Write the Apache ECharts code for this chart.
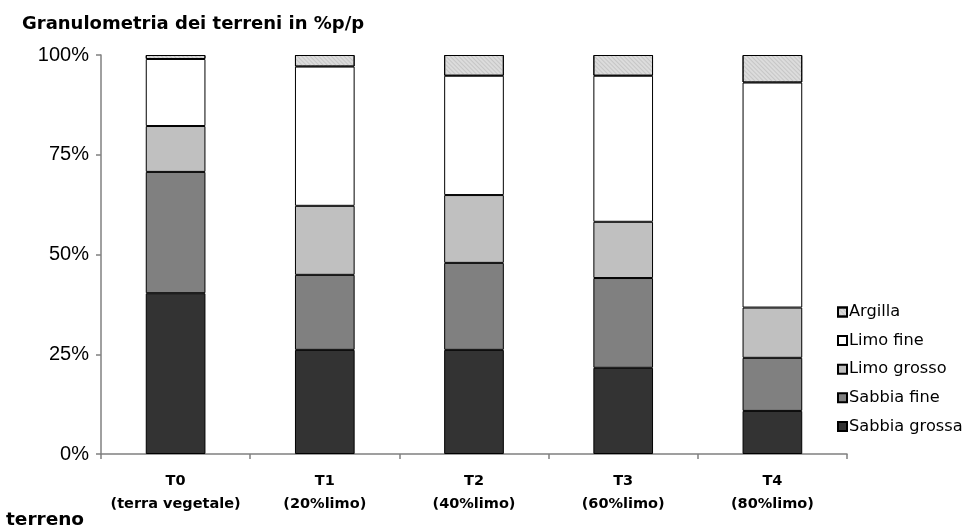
<!DOCTYPE html>
<html>
<head>
<meta charset="utf-8">
<script src="https://cdn.jsdelivr.net/npm/echarts@6/dist/echarts.min.js"></script>
<style>
html,body{margin:0;padding:0;background:#fff;}
#chart{width:973px;height:529px;}
</style>
</head>
<body>
<div id="chart"></div>
<script>
// Soil samples and their particle-size fractions (% by weight)
const categories = ['T0\n(terra vegetale)', 'T1\n(20%limo)', 'T2\n(40%limo)', 'T3\n(60%limo)', 'T4\n(80%limo)'];
const sabbiaGrossa = [40.3, 26.1, 26.1, 21.6, 10.8];
const sabbiaFine   = [30.4, 18.8, 21.8, 22.5, 13.3];
const limoGrosso   = [11.5, 17.3, 17.0, 14.1, 12.6];
const limoFine     = [16.8, 34.9, 29.9, 36.6, 56.4];
const argilla      = [1.0, 2.9, 5.2, 5.2, 6.9];
const yTicks = [0, 25, 50, 75, 100];

const arial = 'Arial, "Liberation Sans", sans-serif';
const wide = '"DejaVu Sans", Arial, sans-serif';

function layer(name, data, color, decal) {
  const s = {
    name: name,
    type: 'bar',
    stack: 'total',
    barWidth: '40%',
    data: data,
    itemStyle: { color: color, borderColor: '#000', borderWidth: 1 }
  };
  if (decal) s.itemStyle.decal = decal;
  return s;
}

const chart = echarts.init(document.getElementById('chart'), null, { renderer: 'canvas' });
chart.setOption({
  animation: false,
  backgroundColor: '#fff',
  title: [
    { text: 'Granulometria dei terreni in %p/p', left: 22, top: 15, padding: 0,
      textStyle: { fontFamily: wide, fontSize: 18, fontWeight: 'bold', color: '#000' } },
    { text: 'terreno', left: 6, top: 511, padding: 0,
      textStyle: { fontFamily: wide, fontSize: 18.5, fontWeight: 'bold', color: '#000' } }
  ],
  legend: {
    orient: 'vertical',
    left: 832,
    top: 299,
    itemWidth: 9,
    itemHeight: 9,
    itemGap: 12.6,
    icon: 'rect',
    data: ['Argilla', 'Limo fine', 'Limo grosso', 'Sabbia fine', 'Sabbia grossa'],
    textStyle: { fontFamily: wide, fontSize: 16.2, color: '#000', padding: [0, 0, 0, -3] }
  },
  grid: { left: 101, right: 126, top: 55, bottom: 75, containLabel: false },
  xAxis: {
    type: 'category',
    data: categories,
    boundaryGap: true,
    axisLine: { show: true, lineStyle: { color: '#808080', width: 1.5 } },
    axisTick: { show: true, length: 5, lineStyle: { color: '#808080', width: 1.5 } },
    axisLabel: {
      interval: 0,
      margin: 16,
      fontFamily: wide,
      fontSize: 14.5,
      fontWeight: 'bold',
      color: '#000',
      lineHeight: 23
    }
  },
  yAxis: {
    type: 'value',
    min: yTicks[0],
    max: yTicks[yTicks.length - 1],
    interval: 25,
    axisLine: { show: true, lineStyle: { color: '#808080', width: 1.5 } },
    axisTick: { show: true, inside: false, length: 5, lineStyle: { color: '#808080', width: 1.5 } },
    splitLine: { show: false },
    axisLabel: {
      margin: 12,
      fontFamily: arial,
      fontSize: 20,
      color: '#000',
      formatter: '{value}%'
    }
  },
  series: [
    layer('Sabbia grossa', sabbiaGrossa, '#333333'),
    layer('Sabbia fine', sabbiaFine, '#808080'),
    layer('Limo grosso', limoGrosso, '#c0c0c0'),
    layer('Limo fine', limoFine, '#ffffff'),
    layer('Argilla', argilla, '#dcdcdc', {
      symbol: 'rect', symbolSize: 1, color: 'rgba(170,170,170,0.45)',
      dashArrayX: [1, 0], dashArrayY: [1, 2], rotation: Math.PI / 4
    })
  ]
});
</script>
</body>
</html>
